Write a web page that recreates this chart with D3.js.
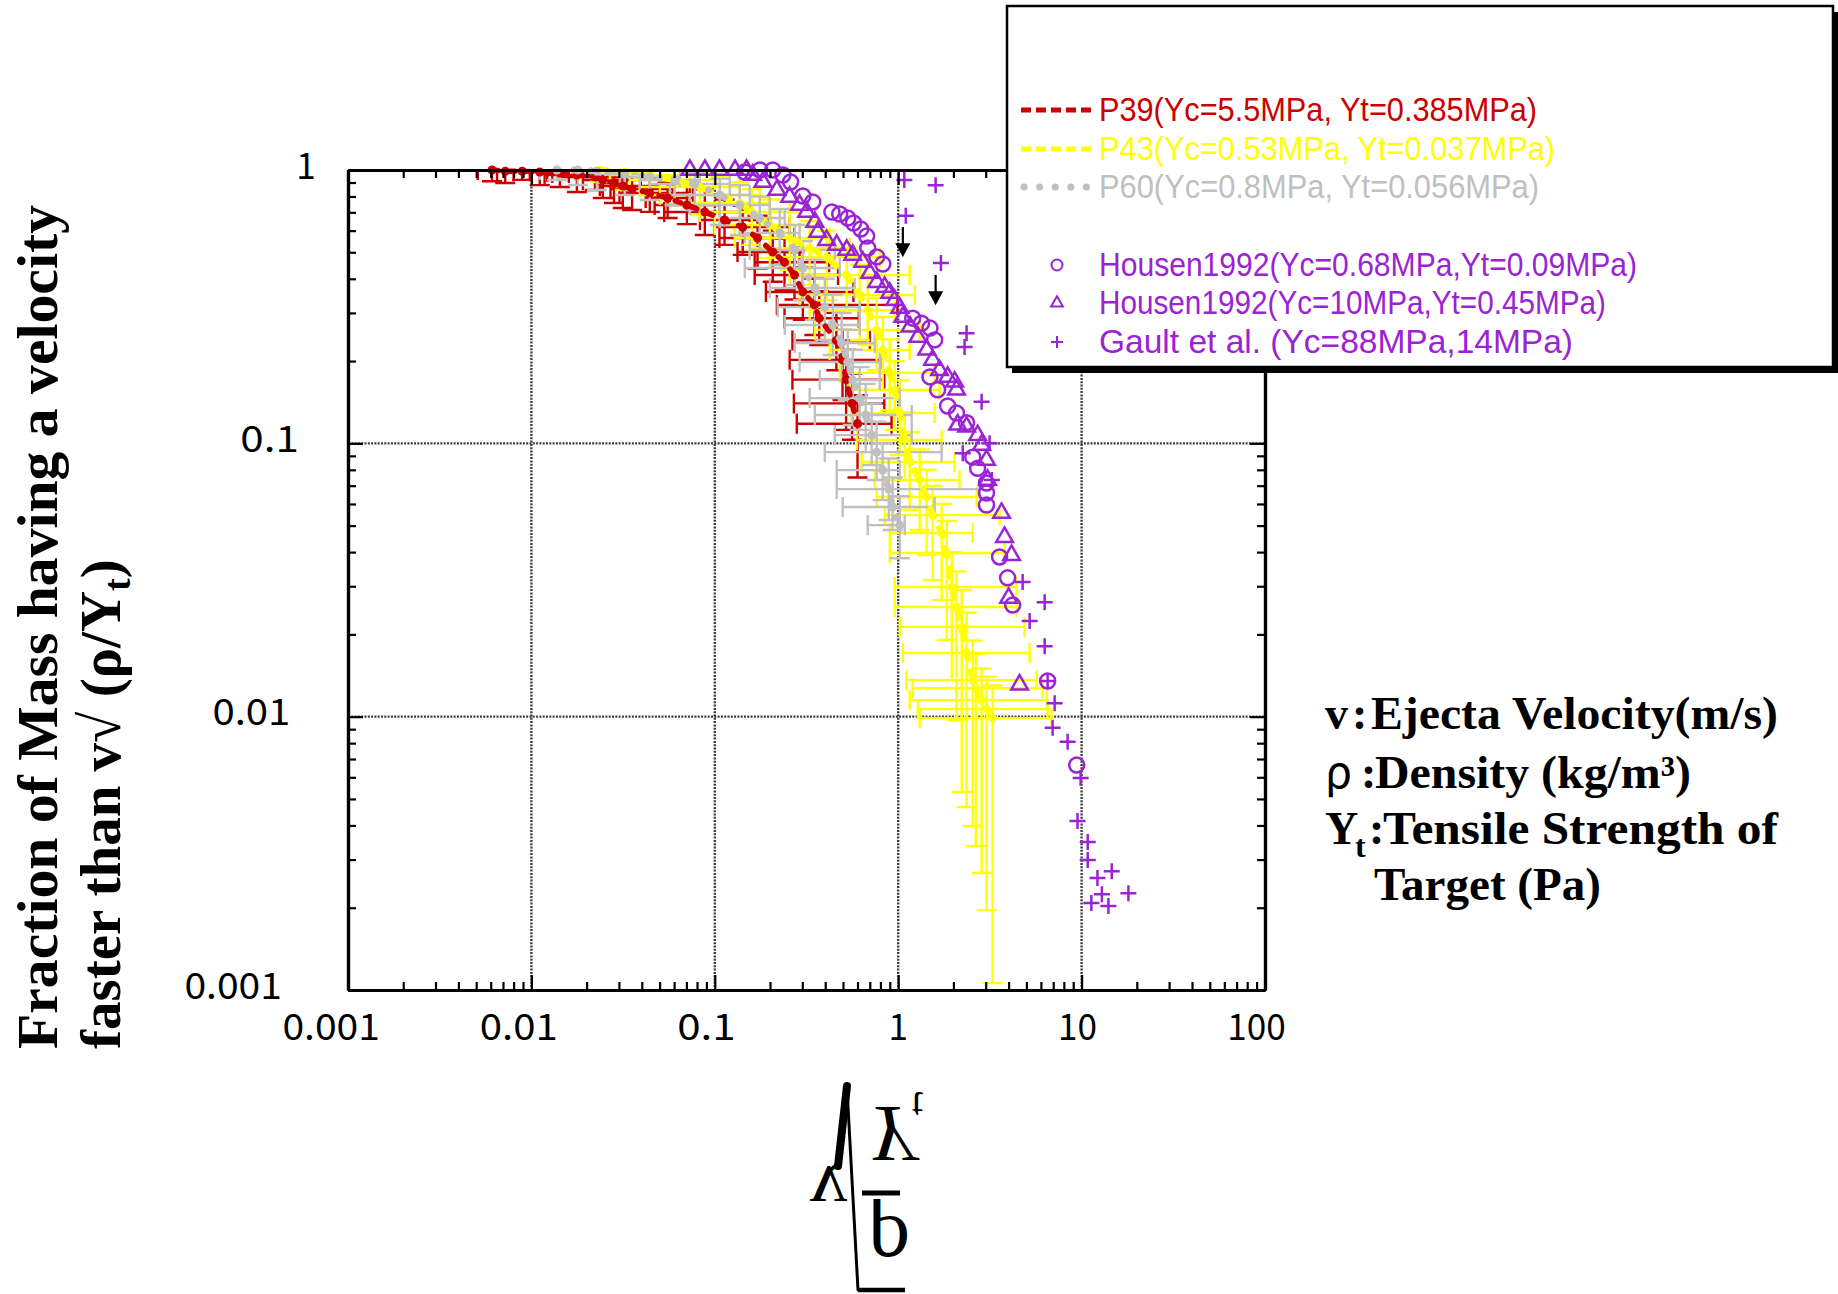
<!DOCTYPE html>
<html>
<head>
<meta charset="utf-8">
<script src="https://cdn.jsdelivr.net/npm/d3@7"></script>
<style>
  html, body { margin: 0; padding: 0; background: #fff; }
  svg { display: block; }
</style>
</head>
<body>
<svg id="chart" width="1838" height="1294"></svg>
<script>
'use strict';

// each row: [x, y, xLow, xHigh, yLow, yHigh]
const p39 = [
  [0.0061, 1.0, 0.0051, 0.0072, 0.91, 1.0],
  [0.0072, 0.99, 0.0065, 0.008, 0.896, 1.0],
  [0.0089, 0.99, 0.008, 0.0098, 0.92, 1.0],
  [0.0111, 0.983, 0.01, 0.0122, 0.88, 1.0],
  [0.0143, 0.975, 0.013, 0.016, 0.867, 1.0],
  [0.0177, 0.959, 0.0118, 0.0235, 0.831, 1.0],
  [0.0222, 0.943, 0.0143, 0.0322, 0.845, 1.0],
  [0.0245, 0.919, 0.0191, 0.0395, 0.79, 1.0],
  [0.0282, 0.896, 0.024, 0.033, 0.757, 1.0],
  [0.0315, 0.874, 0.0236, 0.05, 0.726, 0.98],
  [0.0354, 0.852, 0.027, 0.059, 0.714, 0.96],
  [0.0442, 0.824, 0.0302, 0.073, 0.703, 0.93],
  [0.0553, 0.79, 0.042, 0.076, 0.667, 0.9],
  [0.0704, 0.745, 0.047, 0.106, 0.634, 0.9],
  [0.0882, 0.702, 0.053, 0.155, 0.578, 0.85],
  [0.113, 0.656, 0.083, 0.2, 0.532, 0.78],
  [0.142, 0.618, 0.1, 0.256, 0.489, 0.74],
  [0.171, 0.564, 0.106, 0.271, 0.436, 0.68],
  [0.207, 0.501, 0.133, 0.29, 0.39, 0.6],
  [0.24, 0.46, 0.165, 0.42, 0.365, 0.56],
  [0.272, 0.413, 0.165, 0.47, 0.336, 0.5],
  [0.302, 0.358, 0.19, 0.57, 0.283, 0.44],
  [0.349, 0.321, 0.218, 0.99, 0.249, 0.4],
  [0.371, 0.287, 0.24, 0.61, 0.229, 0.36],
  [0.46, 0.238, 0.265, 0.7, 0.185, 0.3],
  [0.497, 0.202, 0.256, 0.8, 0.144, 0.26],
  [0.52, 0.171, 0.265, 0.84, 0.112, 0.22],
  [0.56, 0.14, 0.27, 0.84, 0.103, 0.18],
  [0.6, 0.118, 0.28, 0.92, 0.075, 0.15],
];

const p43 = [
  [0.0236, 1.0, 0.0184, 0.0323, 0.904, 1.0],
  [0.0323, 0.983, 0.0236, 0.0442, 0.845, 1.0],
  [0.0442, 0.959, 0.0268, 0.0731, 0.81, 1.0],
  [0.0605, 0.919, 0.0344, 0.1, 0.745, 1.0],
  [0.0828, 0.867, 0.039, 0.137, 0.684, 0.98],
  [0.1065, 0.81, 0.0502, 0.176, 0.629, 0.95],
  [0.137, 0.757, 0.0731, 0.1995, 0.578, 0.9],
  [0.159, 0.702, 0.0828, 0.256, 0.532, 0.85],
  [0.1995, 0.629, 0.1, 0.329, 0.477, 0.78],
  [0.256, 0.564, 0.1285, 0.423, 0.431, 0.7],
  [0.329, 0.518, 0.155, 0.544, 0.38, 0.65],
  [0.408, 0.48, 0.1995, 0.793, 0.334, 0.6],
  [0.524, 0.413, 0.256, 1.155, 0.307, 0.52],
  [0.617, 0.349, 0.29, 1.23, 0.239, 0.45],
  [0.682, 0.307, 0.329, 0.957, 0.229, 0.4],
  [0.763, 0.26, 0.351, 1.31, 0.185, 0.34],
  [0.823, 0.2195, 0.423, 1.155, 0.157, 0.29],
  [0.899, 0.181, 0.48, 1.58, 0.132, 0.24],
  [0.957, 0.157, 0.544, 1.68, 0.112, 0.2],
  [1.019, 0.129, 0.558, 1.58, 0.0906, 0.17],
  [1.085, 0.1028, 0.594, 1.726, 0.0734, 0.13],
  [1.155, 0.0854, 0.633, 2.03, 0.057, 0.11],
  [1.31, 0.0734, 0.745, 2.16, 0.0482, 0.095],
  [1.43, 0.0636, 0.763, 2.68, 0.039, 0.08],
  [1.54, 0.0546, 0.844, 3.57, 0.0316, 0.07],
  [1.726, 0.047, 0.9, 2.55, 0.0267, 0.06],
  [1.84, 0.0397, 0.9, 3.8, 0.0191, 0.052],
  [1.96, 0.0298, 0.957, 4.42, 0.0136, 0.04],
  [2.08, 0.0252, 0.957, 4.42, 0.0097, 0.034],
  [2.22, 0.0213, 1.02, 4.89, 0.0053, 0.029],
  [2.36, 0.0171, 1.06, 5.21, 0.00467, 0.024],
  [2.55, 0.0136, 1.11, 5.69, 0.00398, 0.019],
  [2.65, 0.0127, 1.2, 6.13, 0.00336, 0.017],
  [2.85, 0.0115, 1.155, 6.45, 0.00268, 0.015],
  [3.04, 0.01066, 1.28, 6.53, 0.00196, 0.014],
  [3.27, 0.00988, 1.31, 6.86, 0.00106, 0.013],
];

const p60 = [
  [0.01377, 1.0, 0.0111, 0.01726, 0.919, 1.0],
  [0.01792, 1.0, 0.0143, 0.0236, 0.881, 1.0],
  [0.02275, 0.99, 0.01726, 0.0304, 0.845, 1.0],
  [0.0323, 0.967, 0.0236, 0.0442, 0.81, 1.0],
  [0.0442, 0.943, 0.0304, 0.0645, 0.777, 1.0],
  [0.0605, 0.919, 0.039, 0.0828, 0.745, 1.0],
  [0.0778, 0.889, 0.0442, 0.1207, 0.714, 0.98],
  [0.1065, 0.81, 0.0569, 0.155, 0.629, 0.93],
  [0.1368, 0.745, 0.0731, 0.1995, 0.578, 0.88],
  [0.176, 0.667, 0.1065, 0.2407, 0.51, 0.8],
  [0.226, 0.588, 0.1457, 0.29, 0.449, 0.72],
  [0.273, 0.51, 0.155, 0.451, 0.38, 0.63],
  [0.302, 0.438, 0.1457, 0.48, 0.334, 0.55],
  [0.351, 0.37, 0.1995, 0.579, 0.2826, 0.47],
  [0.398, 0.315, 0.2204, 0.617, 0.239, 0.4],
  [0.44, 0.271, 0.2407, 0.617, 0.2104, 0.35],
  [0.492, 0.2328, 0.273, 0.745, 0.1704, 0.3],
  [0.531, 0.1984, 0.29, 0.793, 0.144, 0.26],
  [0.565, 0.1704, 0.3735, 0.793, 0.1167, 0.22],
  [0.617, 0.1464, 0.329, 1.02, 0.112, 0.19],
  [0.665, 0.1269, 0.351, 1.185, 0.0929, 0.165],
  [0.717, 0.1072, 0.451, 1.185, 0.0833, 0.14],
  [0.763, 0.0929, 0.398, 1.726, 0.0734, 0.12],
  [0.823, 0.0798, 0.462, 1.02, 0.062, 0.1],
  [0.888, 0.068, 0.462, 2.78, 0.0524, 0.088],
  [0.933, 0.0585, 0.498, 1.58, 0.0482, 0.075],
  [1.02, 0.0502, 0.682, 1.085, 0.038, 0.064],
];

// [x, y]
const housen068 = [
  [0.1455, 0.983], [0.176, 1.0], [0.207, 1.0], [0.235, 0.959], [0.259, 0.904],
  [0.302, 0.803], [0.342, 0.764], [0.435, 0.702], [0.48, 0.69], [0.531, 0.667],
  [0.571, 0.64], [0.625, 0.608], [0.673, 0.573], [0.682, 0.518], [0.764, 0.481],
  [0.824, 0.453], [1.2, 0.287], [1.34, 0.275], [1.49, 0.264], [1.58, 0.239],
  [1.49, 0.175], [1.64, 0.157], [1.86, 0.137], [2.08, 0.129], [2.36, 0.119],
  [2.55, 0.089], [2.71, 0.081], [3.03, 0.0716], [3.03, 0.0658], [3.03, 0.0595],
  [3.57, 0.0384], [3.95, 0.0322], [4.21, 0.0256], [6.53, 0.0135], [9.4, 0.00665],
];

const housen10 = [
  [0.0731, 1.0], [0.0883, 1.0], [0.106, 1.0], [0.129, 1.0], [0.149, 1.0],
  [0.161, 0.959], [0.183, 0.904], [0.218, 0.845], [0.256, 0.797], [0.29, 0.745],
  [0.317, 0.702], [0.351, 0.645], [0.364, 0.593], [0.407, 0.554], [0.462, 0.532],
  [0.524, 0.51], [0.565, 0.489], [0.641, 0.461], [0.7, 0.42], [0.764, 0.389],
  [0.843, 0.373], [0.9, 0.355], [0.957, 0.334], [1.02, 0.313], [1.06, 0.29],
  [1.16, 0.267], [1.28, 0.245], [1.43, 0.22], [1.54, 0.202], [1.68, 0.185],
  [1.86, 0.175], [2.03, 0.168], [2.08, 0.157], [2.11, 0.117], [2.36, 0.115],
  [2.71, 0.107], [2.85, 0.0986], [3.03, 0.0869], [3.07, 0.0734], [3.66, 0.0556],
  [3.8, 0.0454], [4.15, 0.039], [4.0, 0.0272], [4.59, 0.0131],
];

const gault = [
  [1.08, 0.92], [1.6, 0.88], [1.1, 0.68], [1.71, 0.457], [2.36, 0.253],
  [2.3, 0.225], [2.85, 0.142], [3.15, 0.1], [2.25, 0.092], [3.24, 0.0734],
  [4.77, 0.0311], [6.29, 0.0262], [5.21, 0.0224], [6.29, 0.0181], [6.53, 0.0135],
  [7.13, 0.0112], [6.95, 0.0091], [8.39, 0.0081], [9.88, 0.00596], [9.5, 0.00415],
  [10.8, 0.00348], [10.8, 0.00299], [12.2, 0.00257], [14.6, 0.00272], [12.9, 0.00224],
  [18.0, 0.00226], [11.3, 0.00208], [14.0, 0.00203],
];

// [x, yStart, yTip]
const arrows = [[1.06, 0.618, 0.48], [1.6, 0.413, 0.32]];

const xTicks = [0.001, 0.01, 0.1, 1, 10, 100];
const xTickLabels = ['0.001', '0.01', '0.1', '1', '10', '100'];
const yTicks = [0.001, 0.01, 0.1, 1];
const yTickLabels = ['0.001', '0.01', '0.1', '1'];
const gridX = [0.01, 0.1, 1, 10];
const gridY = [0.01, 0.1];

const legendLabels = [
  'P39(Yc=5.5MPa,  Yt=0.385MPa)',
  'P43(Yc=0.53MPa,  Yt=0.037MPa)',
  'P60(Yc=0.8MPa,  Yt=0.056MPa)',
  'Housen1992(Yc=0.68MPa,Yt=0.09MPa)',
  'Housen1992(Yc=10MPa,Yt=0.45MPa)',
  'Gault et al.  (Yc=88MPa,14MPa)',
];

const RED = '#cc0000';
const YELLOW = '#ffff00';
const GRAY = '#c0c0c0';
const PURPLE = '#9a24d3';
const GOTHIC = "'Noto Sans CJK JP', 'Noto Sans', sans-serif";
const NARROW = "'Liberation Sans Narrow', 'Liberation Sans', Arial, sans-serif";
const SERIF = "'Liberation Serif', 'DejaVu Serif', serif";

const plot = { left: 348, right: 1265, top: 170, bottom: 990 };

const x = d3.scaleLog().domain([0.001, 100]).range([plot.left, plot.right]);
const y = d3.scaleLog().domain([0.001, 1]).range([plot.bottom, plot.top]);

const svg = d3.select('#chart');

svg
  .append('defs')
  .append('clipPath')
  .attr('id', 'plot-clip')
  .append('rect')
  .attr('x', plot.left)
  .attr('y', plot.top)
  .attr('width', plot.right - plot.left)
  .attr('height', plot.bottom - plot.top);

const minorTicks = (lo, hi) => {
  const out = [];
  for (let e = Math.round(Math.log10(lo)); e < Math.round(Math.log10(hi)); e++) {
    for (let k = 2; k <= 9; k++) out.push(k * Math.pow(10, e));
  }
  return out;
};

// grid
const grid = svg
  .append('g')
  .attr('stroke', '#3c3c3c')
  .attr('stroke-width', 2.4)
  .attr('stroke-dasharray', '2,1.3');

grid
  .selectAll('line.gx')
  .data(gridX)
  .join('line')
  .attr('class', 'gx')
  .attr('x1', (d) => x(d))
  .attr('x2', (d) => x(d))
  .attr('y1', plot.top)
  .attr('y2', plot.bottom);

grid
  .selectAll('line.gy')
  .data(gridY)
  .join('line')
  .attr('class', 'gy')
  .attr('y1', (d) => y(d))
  .attr('y2', (d) => y(d))
  .attr('x1', plot.left)
  .attr('x2', plot.right);

// error bars
const CAP = 10;
const bars = svg.append('g').attr('clip-path', 'url(#plot-clip)').attr('fill', 'none');

const drawBars = (rows, color) => {
  const p = d3.path();
  rows.forEach(([vx, vy, xl, xh, yl, yh]) => {
    const px = x(vx);
    const py = y(vy);
    p.moveTo(x(xl), py);
    p.lineTo(x(xh), py);
    [x(xl), x(xh)].forEach((cx) => {
      p.moveTo(cx, py - CAP);
      p.lineTo(cx, py + CAP);
    });
    p.moveTo(px, y(yh));
    p.lineTo(px, y(yl));
    [y(yl), y(yh)].forEach((cy) => {
      p.moveTo(px - CAP, cy);
      p.lineTo(px + CAP, cy);
    });
  });
  bars
    .append('path')
    .attr('d', p.toString())
    .attr('stroke', color)
    .attr('stroke-width', 2.4);
};

drawBars(p39, RED);
drawBars(p43, YELLOW);
drawBars(p60, GRAY);

// connecting lines + markers
const line = d3
  .line()
  .x((d) => x(d[0]))
  .y((d) => y(d[1]));

const series = svg.append('g');

const drawSeries = (rows, color, width, dash, r) => {
  series
    .append('path')
    .attr('d', line(rows))
    .attr('fill', 'none')
    .attr('stroke', color)
    .attr('stroke-width', width)
    .attr('stroke-dasharray', dash)
    .attr('stroke-linecap', 'round');
  series
    .append('g')
    .selectAll('circle')
    .data(rows)
    .join('circle')
    .attr('cx', (d) => x(d[0]))
    .attr('cy', (d) => y(d[1]))
    .attr('r', r)
    .attr('fill', color);
};

drawSeries(p39, RED, 5.5, '6,11', 4.5);
drawSeries(p43, YELLOW, 6.5, '8,13', 4);
drawSeries(p60, GRAY, 7, '0.1,17', 4.5);

// Housen / Gault symbols
const purple = svg
  .append('g')
  .attr('fill', 'none')
  .attr('stroke', PURPLE)
  .attr('stroke-width', 2.5);

purple
  .append('g')
  .selectAll('circle')
  .data(housen068)
  .join('circle')
  .attr('cx', (d) => x(d[0]))
  .attr('cy', (d) => y(d[1]))
  .attr('r', 7.5);

const tri = d3.symbol().type(d3.symbolTriangle).size(120);
purple
  .append('g')
  .selectAll('path')
  .data(housen10)
  .join('path')
  .attr('transform', (d) => `translate(${x(d[0])},${y(d[1])})`)
  .attr('d', tri);

const plusPath = (s) => `M${-s},0H${s}M0,${-s}V${s}`;
purple
  .append('g')
  .selectAll('path')
  .data(gault)
  .join('path')
  .attr('transform', (d) => `translate(${x(d[0])},${y(d[1])})`)
  .attr('d', plusPath(8));

// arrows
const arrowG = svg.append('g').attr('fill', '#000').attr('stroke', '#000');
arrows.forEach(([ax, y0, y1]) => {
  const px = x(ax);
  arrowG
    .append('line')
    .attr('x1', px)
    .attr('x2', px)
    .attr('y1', y(y0))
    .attr('y2', y(y1) - 10)
    .attr('stroke-width', 2.2);
  arrowG
    .append('path')
    .attr('stroke', 'none')
    .attr('d', `M${px - 7.5},${y(y1) - 14}L${px + 7.5},${y(y1) - 14}L${px},${y(y1)}Z`);
});

// axes: frame with inward ticks on all sides
const axes = svg.append('g');
const addAxis = (make, scale, transform, values, len) =>
  axes
    .append('g')
    .attr('transform', transform)
    .call(make(scale).tickValues(values).tickSize(-len).tickSizeOuter(0).tickFormat(''))
    .call((g) => g.select('.domain').attr('stroke-width', 3.2))
    .call((g) => g.selectAll('.tick line').attr('stroke-width', 2.2));

const minorX = minorTicks(0.001, 100);
const minorY = minorTicks(0.001, 1);
[
  [d3.axisBottom, x, `translate(0,${plot.bottom})`, xTicks, minorX],
  [d3.axisTop, x, `translate(0,${plot.top})`, xTicks, minorX],
  [d3.axisLeft, y, `translate(${plot.left},0)`, yTicks, minorY],
  [d3.axisRight, y, `translate(${plot.right},0)`, yTicks, minorY],
].forEach(([make, scale, tr, major, minor]) => {
  addAxis(make, scale, tr, minor, 8);
  addAxis(make, scale, tr, major, 15);
});

// tick labels
const labels = svg.append('g').attr('font-family', GOTHIC).attr('font-size', 37).attr('fill', '#000');

labels
  .selectAll('text.xl')
  .data(xTicks)
  .join('text')
  .attr('class', 'xl')
  .attr('text-anchor', 'middle')
  .attr('x', (d, i) => x(d) - 4.2 * (xTickLabels[i].length - 1))
  .attr('y', plot.bottom + 50)
  .attr('textLength', (d, i) => xTickLabels[i].length * 19.5)
  .attr('lengthAdjust', 'spacingAndGlyphs')
  .text((d, i) => xTickLabels[i]);

labels
  .selectAll('text.yl')
  .data(yTicks)
  .join('text')
  .attr('class', 'yl')
  .attr('text-anchor', 'middle')
  .attr('x', (d, i) => 306 - 18.2 * (yTickLabels[i].length - 1))
  .attr('y', (d) => y(d) + 8.5)
  .attr('textLength', (d, i) => yTickLabels[i].length * 19.5)
  .attr('lengthAdjust', 'spacingAndGlyphs')
  .text((d, i) => yTickLabels[i]);

// y axis title (two rotated lines)
const yTitle = svg
  .append('g')
  .attr('font-family', SERIF)
  .attr('font-weight', 'bold')
  .attr('font-size', 57)
  .attr('fill', '#000');

yTitle
  .append('text')
  .attr('transform', 'translate(57,1049) rotate(-90)')
  .attr('textLength', 844)
  .attr('lengthAdjust', 'spacingAndGlyphs')
  .text('Fraction of Mass having a velocity');

const t2 = yTitle.append('text').attr('transform', 'translate(120,1049) rotate(-90)');
t2.append('tspan').text('faster than v\u221A (\u03C1/Y');
t2.append('tspan').attr('font-size', 38).attr('dy', 10).text('t');
t2.append('tspan').attr('dy', -10).text(')');

// x axis title: v√(ρ/Yt), mirrored top-to-bottom as in the source figure
const xTitle = svg.append('g').attr('fill', '#000');
const formula = xTitle
  .append('text')
  .attr('transform', 'scale(1,-1)')
  .attr('font-family', SERIF);
formula.append('tspan').attr('x', 810).attr('y', -1167).attr('font-size', 74).text('v');
formula.append('tspan').attr('x', 868).attr('y', -1107).attr('font-size', 80).attr('font-style', 'italic').text('Y');
formula.append('tspan').attr('x', 912).attr('y', -1092).attr('font-size', 40).text('t');
formula.append('tspan').attr('x', 868).attr('y', -1217).attr('font-size', 85).text('\u03C1');

const rad = xTitle.append('g').attr('stroke', '#000').attr('fill', 'none').attr('stroke-linecap', 'round');
rad.append('path').attr('d', 'M829,1171L838,1164').attr('stroke-width', 4);
rad.append('path').attr('d', 'M838,1166L847,1086').attr('stroke-width', 8);
rad.append('path').attr('d', 'M847,1088L858,1290').attr('stroke-width', 3);
rad.append('path').attr('d', 'M858,1290H905').attr('stroke-width', 4.5).attr('stroke-linecap', 'butt');
rad.append('path').attr('d', 'M862,1193H900').attr('stroke-width', 5).attr('stroke-linecap', 'butt');

// right-hand notes
const notes = svg
  .append('g')
  .attr('font-family', SERIF)
  .attr('font-weight', 'bold')
  .attr('font-size', 46)
  .attr('fill', '#000');

const note1 = notes.append('text').attr('y', 729);
note1.append('tspan').attr('x', 1325).text('v');
note1.append('tspan').attr('x', 1352).text(':');
note1.append('tspan').attr('x', 1371).attr('textLength', 407).attr('lengthAdjust', 'spacingAndGlyphs').text('Ejecta Velocity(m/s)');

const note2 = notes.append('text').attr('y', 788);
note2.append('tspan').attr('x', 1325).attr('font-family', GOTHIC).attr('font-weight', 'normal').attr('font-size', 44).text('\u03C1');
note2.append('tspan').attr('x', 1361).text(':');
note2.append('tspan').attr('x', 1375).attr('textLength', 316).attr('lengthAdjust', 'spacingAndGlyphs').text('Density (kg/m\u00B3)');

const note3 = notes.append('text').attr('y', 844);
note3.append('tspan').attr('x', 1325).text('Y');
note3.append('tspan').attr('x', 1355).attr('dy', 13).attr('font-size', 32).text('t');
note3.append('tspan').attr('x', 1369).attr('dy', -13).text(':');
note3.append('tspan').attr('x', 1383).attr('textLength', 395).attr('lengthAdjust', 'spacingAndGlyphs').text('Tensile Strength of');

notes.append('text').attr('x', 1374).attr('y', 900).attr('textLength', 227).attr('lengthAdjust', 'spacingAndGlyphs').text('Target (Pa)');

// legend
const legend = svg.append('g');
legend.append('rect').attr('x', 1012).attr('y', 12).attr('width', 826).attr('height', 361).attr('fill', '#000');
legend
  .append('rect')
  .attr('x', 1007)
  .attr('y', 6)
  .attr('width', 826)
  .attr('height', 361)
  .attr('fill', '#fff')
  .attr('stroke', '#000')
  .attr('stroke-width', 2.5);

const legendColors = [RED, YELLOW, GRAY, PURPLE, PURPLE, PURPLE];
const legendBase = [121, 160, 198, 276, 314, 353];
const legendWidth = [438, 456, 440, 538, 507, 474];

legend
  .selectAll('text')
  .data(legendLabels)
  .join('text')
  .attr('x', 1099)
  .attr('y', (d, i) => legendBase[i])
  .attr('font-family', NARROW)
  .attr('font-size', 33)
  .attr('fill', (d, i) => legendColors[i])
  .attr('textLength', (d, i) => legendWidth[i])
  .attr('lengthAdjust', 'spacingAndGlyphs')
  .text((d) => d);

[
  [RED, '10,5', 5, 'butt', 1021, 1091],
  [YELLOW, '10,5', 5, 'butt', 1021, 1091],
  [GRAY, '0.1,15.5', 7, 'round', 1024, 1087],
].forEach(([c, dash, w, cap, x1, x2], i) => {
  legend
    .append('line')
    .attr('x1', x1)
    .attr('x2', x2)
    .attr('y1', legendBase[i] - 11)
    .attr('y2', legendBase[i] - 11)
    .attr('stroke', c)
    .attr('stroke-width', w)
    .attr('stroke-dasharray', dash)
    .attr('stroke-linecap', cap);
});

const legSym = legend.append('g').attr('fill', 'none').attr('stroke', PURPLE).attr('stroke-width', 2);
legSym.append('circle').attr('cx', 1057).attr('cy', legendBase[3] - 11).attr('r', 5.5);
legSym.append('path').attr('transform', `translate(1057,${legendBase[4] - 11})`).attr('d', d3.symbol().type(d3.symbolTriangle).size(60));
legSym.append('path').attr('transform', `translate(1057,${legendBase[5] - 11})`).attr('d', plusPath(6));
</script>
</body>
</html>
